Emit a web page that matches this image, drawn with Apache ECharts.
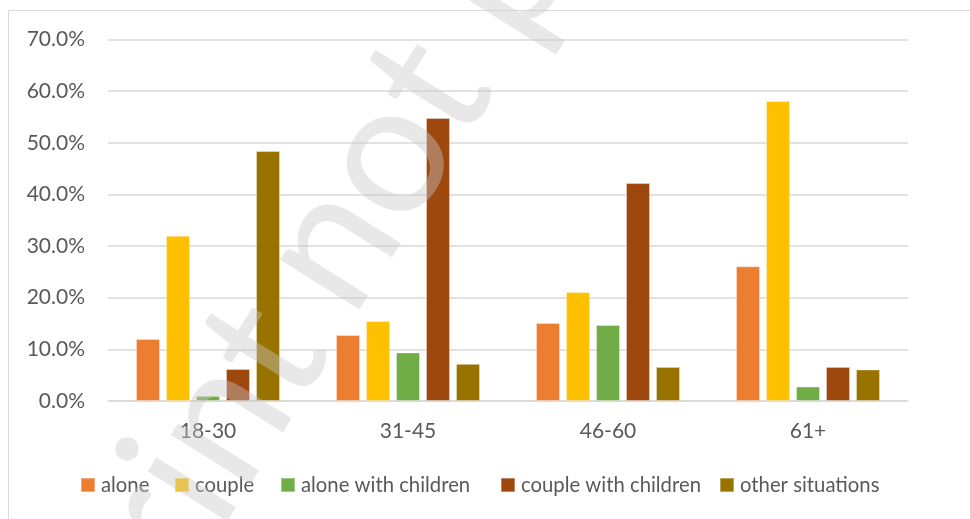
<!DOCTYPE html>
<html>
<head>
<meta charset="utf-8">
<script src="https://cdn.jsdelivr.net/npm/echarts@6/dist/echarts.min.js"></script>
<style>
html,body{margin:0;padding:0;background:#fff;}
#chart{width:970px;height:519px;}
</style>
</head>
<body>
<div id="chart"></div>
<script>
const categories = ['18-30', '31-45', '46-60', '61+'];
const seriesNames = ['alone', 'couple', 'alone with children', 'couple with children', 'other situations'];
const alone = [12.0, 12.8, 15.1, 26.1];
const couple = [32.0, 15.5, 21.1, 58.1];
const aloneWithChildren = [1.0, 9.4, 14.7, 2.8];
const coupleWithChildren = [6.2, 54.8, 42.2, 6.6];
const otherSituations = [48.4, 7.2, 6.6, 6.1];
const yTicks = [0, 10, 20, 30, 40, 50, 60, 70];
const colors = ['#ED7D31', '#FFC000', '#70AD47', '#9E480E', '#997300'];
const legendLefts = [80, 174, 280, 500, 719];
const watermarkLeft = 'Preprint';
const watermarkRight = 'not peer reviewed';

const values = [alone, couple, aloneWithChildren, coupleWithChildren, otherSituations];
const FONT = 'Lato';
const chart = echarts.init(document.getElementById('chart'), null, {renderer: 'canvas'});

const ang = 58 * Math.PI / 180;
const ux = Math.cos(ang), uy = -Math.sin(ang);
const vx = -Math.sin(ang), vy = -Math.cos(ang);
const wmSize = 185;
const wmColor = 'rgba(200,200,200,0.42)';
const shiftU = -30;
const startNot = [362 + shiftU * ux, 291 + shiftU * uy];
const spaceW = 38;
const mid = 52;

chart.setOption({
  animation: false,
  backgroundColor: '#fff',
  color: colors,
  textStyle: {fontFamily: FONT},
  grid: {left: 108, right: 62, top: 39.5, bottom: 118, containLabel: false},
  xAxis: {
    type: 'category',
    data: categories,
    axisLine: {lineStyle: {color: '#d9d9d9', width: 1.5}},
    axisTick: {show: false},
    axisLabel: {color: '#595959', fontSize: 21, fontFamily: FONT, margin: 20}
  },
  yAxis: {
    type: 'value',
    min: yTicks[0],
    max: yTicks[yTicks.length - 1],
    interval: 10,
    axisLine: {show: false},
    axisTick: {show: false},
    splitLine: {lineStyle: {color: '#d9d9d9', width: 1.5}},
    axisLabel: {color: '#595959', fontSize: 21, fontFamily: FONT, margin: 23,
      formatter: v => v.toFixed(1) + '%'}
  },
  legend: seriesNames.map((name, i) => ({
    data: [name],
    left: legendLefts[i],
    top: 475,
    padding: 0,
    itemWidth: 14,
    itemHeight: 14,
    icon: 'rect',
    textStyle: {color: '#595959', fontSize: 20.3, fontFamily: FONT, padding: [0, 0, 0, 1]}
  })),
  series: seriesNames.map((name, i) => ({
    name: name,
    type: 'bar',
    data: values[i],
    barGap: '25%',
    barCategoryGap: '28%',
    itemStyle: {color: colors[i], borderColor: 'rgba(255,255,255,0.35)', borderWidth: 1}
  })),
  graphic: [
    {
      type: 'rect', silent: true, z: 0,
      shape: {x: 8.5, y: 10.5, width: 1000, height: 600},
      style: {fill: 'none', stroke: '#d9d9d9', lineWidth: 1}
    },
    {
      type: 'text', silent: true, z: 100,
      x: startNot[0] + mid * vx, y: startNot[1] + mid * vy,
      rotation: ang,
      style: {text: watermarkRight, font: wmSize + 'px ' + FONT, fill: wmColor,
        textAlign: 'left', textVerticalAlign: 'middle', align: 'left', verticalAlign: 'middle'}
    },
    {
      type: 'text', silent: true, z: 100,
      x: startNot[0] - spaceW * ux + mid * vx, y: startNot[1] - spaceW * uy + mid * vy,
      rotation: ang,
      style: {text: watermarkLeft, font: wmSize + 'px ' + FONT, fill: wmColor,
        textAlign: 'right', textVerticalAlign: 'middle', align: 'right', verticalAlign: 'middle'}
    }
  ]
});
</script>
</body>
</html>
